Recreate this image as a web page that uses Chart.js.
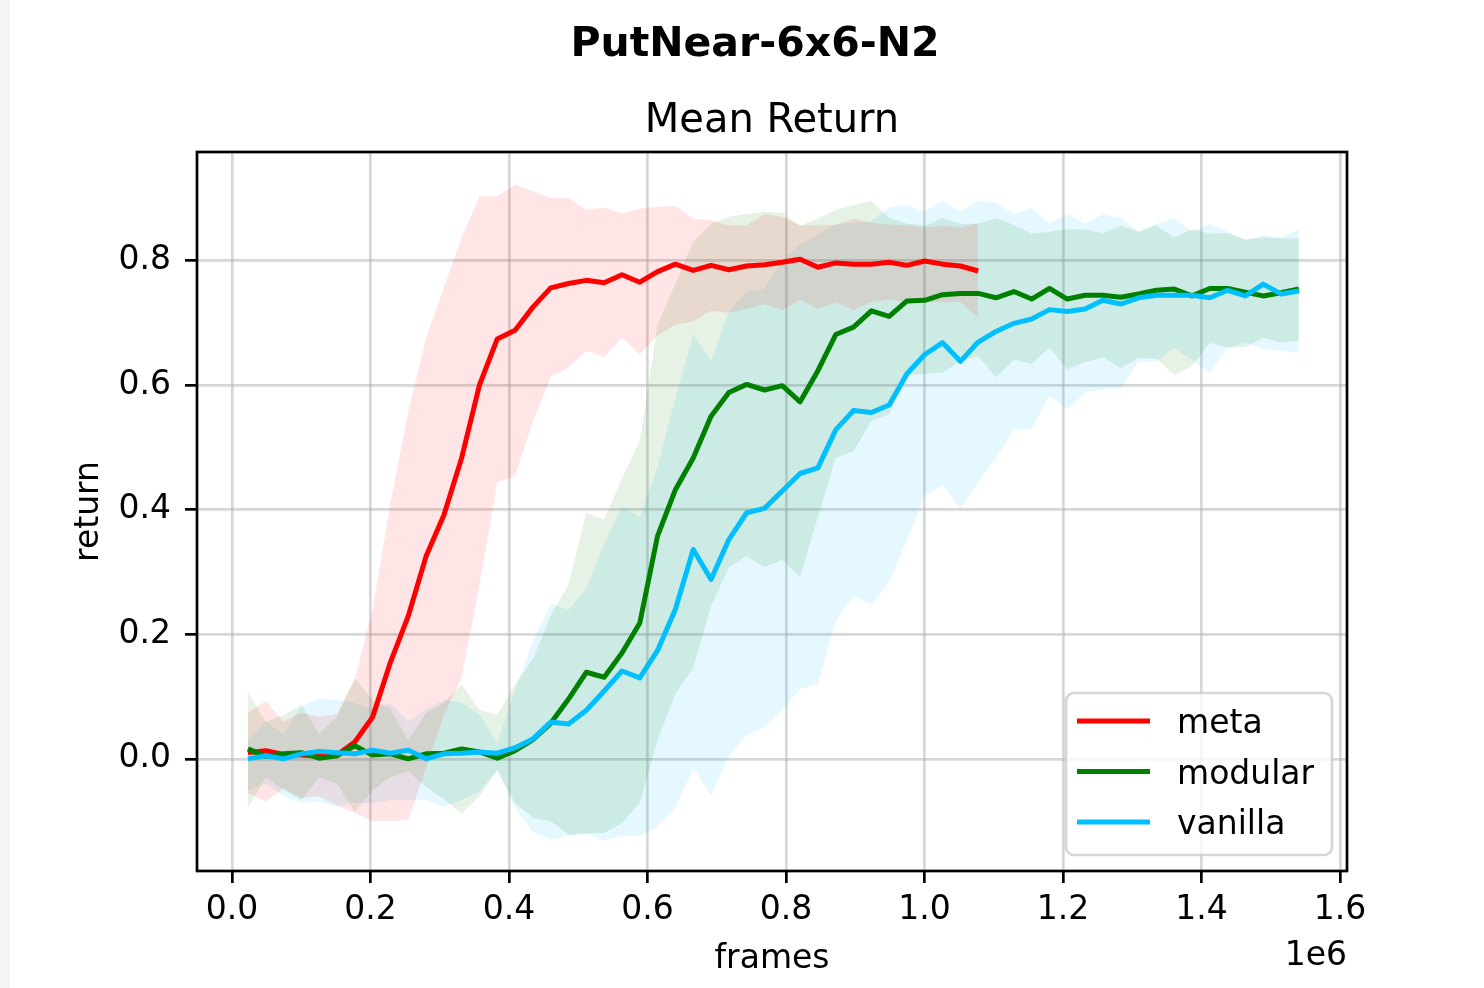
<!DOCTYPE html>
<html lang="en">
<head>
<meta charset="UTF-8">
<title>PutNear-6x6-N2 - Mean Return</title>
<script src="https://cdn.jsdelivr.net/npm/chart.js@4.4.1/dist/chart.umd.min.js"></script>
<style>
  html, body { margin: 0; padding: 0; background: #fff; }
  #wrap { width: 1484px; height: 988px; }
  canvas { display: block; }
</style>
</head>
<body>
<div id="wrap"><canvas id="returnChart" width="1484" height="988"></canvas></div>
<script>
// frame count at each logged update
const frames = [
  23000, 48720, 74440, 100160, 125880, 151600, 177320, 203040, 228760, 254480,
  280200, 305920, 331640, 357360, 383080, 408800, 434520, 460240, 485960, 511680,
  537400, 563120, 588840, 614560, 640280, 666000, 691720, 717440, 743160, 768880,
  794600, 820320, 846040, 871760, 897480, 923200, 948920, 974640, 1000360, 1026080,
  1051800, 1077520, 1103240, 1128960, 1154680, 1180400, 1206120, 1231840, 1257560, 1283280,
  1309000, 1334720, 1360440, 1386160, 1411880, 1437600, 1463320, 1489040, 1514760, 1540480
];

// meta agent (shorter run)
const metaMean = [
  0.010, 0.013, 0.007, 0.006, 0.004, 0.006, 0.027, 0.067, 0.155, 0.229,
  0.325, 0.391, 0.483, 0.600, 0.674, 0.688, 0.725, 0.756, 0.763, 0.768,
  0.764, 0.777, 0.765, 0.782, 0.794, 0.784, 0.792, 0.785, 0.791, 0.793,
  0.797, 0.802, 0.789, 0.796, 0.794, 0.794, 0.797, 0.792, 0.799, 0.794,
  0.791, 0.783
];
const metaUpper = [
  0.074, 0.093, 0.060, 0.074, 0.068, 0.072, 0.127, 0.240, 0.410, 0.557,
  0.675, 0.756, 0.837, 0.903, 0.903, 0.922, 0.911, 0.900, 0.900, 0.881,
  0.885, 0.875, 0.883, 0.886, 0.887, 0.867, 0.865, 0.856, 0.856, 0.874,
  0.870, 0.856, 0.856, 0.857, 0.867, 0.860, 0.858, 0.856, 0.853, 0.856,
  0.853, 0.860
];
const metaLower = [
  -0.055, -0.069, -0.047, -0.063, -0.060, -0.075, -0.087, -0.100, -0.100, -0.098,
  -0.015, 0.070, 0.130, 0.280, 0.443, 0.454, 0.542, 0.613, 0.628, 0.655,
  0.645, 0.676, 0.649, 0.680, 0.697, 0.702, 0.719, 0.716, 0.722, 0.730,
  0.720, 0.737, 0.722, 0.733, 0.720, 0.733, 0.737, 0.733, 0.733, 0.733,
  0.733, 0.708
];

// modular agent
const modularMean = [
  0.016, 0.004, 0.008, 0.010, 0.001, 0.005, 0.021, 0.006, 0.008, 0.000,
  0.008, 0.009, 0.016, 0.011, 0.001, 0.013, 0.031, 0.057, 0.096, 0.139,
  0.131, 0.170, 0.218, 0.358, 0.432, 0.483, 0.550, 0.588, 0.601, 0.592,
  0.599, 0.573, 0.623, 0.681, 0.693, 0.719, 0.710, 0.735, 0.736, 0.745,
  0.747, 0.747, 0.740, 0.750, 0.738, 0.755, 0.738, 0.744, 0.744, 0.741,
  0.746, 0.752, 0.754, 0.743, 0.755, 0.755, 0.749, 0.743, 0.748, 0.754
];
const modularUpper = [
  0.107, 0.060, 0.070, 0.087, 0.040, 0.068, 0.130, 0.095, 0.080, 0.030,
  0.073, 0.090, 0.119, 0.079, 0.070, 0.120, 0.160, 0.230, 0.280, 0.395,
  0.384, 0.450, 0.510, 0.697, 0.763, 0.830, 0.859, 0.870, 0.874, 0.878,
  0.876, 0.856, 0.867, 0.881, 0.889, 0.895, 0.868, 0.859, 0.856, 0.868,
  0.859, 0.859, 0.868, 0.857, 0.843, 0.846, 0.850, 0.850, 0.843, 0.856,
  0.846, 0.856, 0.837, 0.850, 0.843, 0.844, 0.833, 0.837, 0.835, 0.835
];
const modularLower = [
  -0.079, -0.030, -0.050, -0.066, -0.030, -0.040, -0.085, -0.050, -0.030, -0.020,
  -0.045, -0.065, -0.088, -0.060, -0.018, -0.071, -0.095, -0.100, -0.122, -0.120,
  -0.119, -0.103, -0.071, 0.030, 0.105, 0.146, 0.245, 0.307, 0.325, 0.308,
  0.319, 0.292, 0.388, 0.483, 0.494, 0.542, 0.553, 0.616, 0.618, 0.620,
  0.638, 0.646, 0.612, 0.640, 0.634, 0.660, 0.625, 0.637, 0.644, 0.627,
  0.643, 0.642, 0.616, 0.630, 0.668, 0.660, 0.661, 0.676, 0.668, 0.671
];

// vanilla agent
const vanillaMean = [
  0.000, 0.005, 0.000, 0.008, 0.012, 0.010, 0.008, 0.014, 0.009, 0.014,
  0.000, 0.008, 0.009, 0.011, 0.009, 0.018, 0.032, 0.059, 0.056, 0.078,
  0.109, 0.141, 0.130, 0.174, 0.240, 0.336, 0.288, 0.352, 0.395, 0.402,
  0.430, 0.458, 0.467, 0.528, 0.559, 0.556, 0.568, 0.618, 0.649, 0.668,
  0.638, 0.669, 0.686, 0.699, 0.706, 0.721, 0.718, 0.722, 0.736, 0.730,
  0.740, 0.744, 0.744, 0.744, 0.740, 0.752, 0.743, 0.762, 0.746, 0.751
];
const vanillaUpper = [
  0.030, 0.060, 0.040, 0.085, 0.097, 0.095, 0.090, 0.080, 0.090, 0.060,
  0.080, 0.095, 0.090, 0.071, 0.025, 0.110, 0.188, 0.248, 0.239, 0.274,
  0.345, 0.406, 0.388, 0.469, 0.579, 0.682, 0.638, 0.719, 0.750, 0.755,
  0.800, 0.826, 0.841, 0.858, 0.861, 0.863, 0.885, 0.889, 0.878, 0.896,
  0.878, 0.896, 0.892, 0.874, 0.884, 0.859, 0.874, 0.859, 0.874, 0.868,
  0.846, 0.859, 0.868, 0.846, 0.859, 0.846, 0.833, 0.840, 0.837, 0.850
];
const vanillaLower = [
  -0.050, -0.040, -0.060, -0.070, -0.069, -0.077, -0.070, -0.072, -0.066, -0.066,
  -0.066, -0.077, -0.066, -0.052, -0.018, -0.080, -0.117, -0.130, -0.124, -0.120,
  -0.131, -0.124, -0.124, -0.109, -0.079, -0.015, -0.058, 0.005, 0.038, 0.051,
  0.078, 0.112, 0.120, 0.221, 0.261, 0.248, 0.283, 0.351, 0.424, 0.439,
  0.402, 0.444, 0.483, 0.528, 0.530, 0.583, 0.561, 0.587, 0.594, 0.594,
  0.638, 0.638, 0.660, 0.640, 0.620, 0.660, 0.668, 0.658, 0.655, 0.651
];

const yTicks = [0.0, 0.2, 0.4, 0.6, 0.8];
const xTicks = [0, 200000, 400000, 600000, 800000, 1000000, 1200000, 1400000, 1600000];

const FONT = '"DejaVu Sans", "Liberation Sans", sans-serif';
const GRID = 'rgba(176,176,176,0.5)';

const runs = [
  { label: 'meta', color: '#ff0000', band: 'rgba(255,0,0,0.1)', mean: metaMean, lower: metaLower, upper: metaUpper, order: 2 },
  { label: 'modular', color: '#008000', band: 'rgba(0,128,0,0.1)', mean: modularMean, lower: modularLower, upper: modularUpper, order: 1 },
  { label: 'vanilla', color: '#00bfff', band: 'rgba(0,191,255,0.1)', mean: vanillaMean, lower: vanillaLower, upper: vanillaUpper, order: 0 }
];

function points(values) {
  return values.map((v, i) => ({ x: frames[i], y: v }));
}

const datasets = [];
runs.forEach(run => {
  datasets.push({
    label: run.label,
    data: points(run.mean),
    borderColor: run.color,
    borderWidth: 5,
    borderJoinStyle: 'round',
    pointRadius: 0,
    tension: 0,
    fill: false,
    order: run.order
  });
});
// shaded spread: upper edge, then lower edge filled up to it
runs.forEach(run => {
  const upperIndex = datasets.length;
  datasets.push({
    label: run.label + ' upper',
    data: points(run.upper),
    borderColor: 'rgba(0,0,0,0)',
    borderWidth: 0,
    pointRadius: 0,
    tension: 0,
    fill: false,
    order: 5
  });
  datasets.push({
    label: run.label + ' lower',
    data: points(run.lower),
    borderColor: 'rgba(0,0,0,0)',
    borderWidth: 0,
    backgroundColor: run.band,
    pointRadius: 0,
    tension: 0,
    fill: upperIndex,
    order: 5
  });
});

// frame, titles, axis labels and legend drawn in matplotlib style
const figureDecor = {
  id: 'figureDecor',
  beforeDraw(chart) {
    const { ctx, width, height } = chart;
    ctx.save();
    ctx.fillStyle = '#ffffff';
    ctx.fillRect(0, 0, width, height);
    ctx.fillStyle = '#f4f4f4';
    ctx.fillRect(0, 0, 10, height);
    ctx.restore();
  },
  afterDraw(chart) {
    const { ctx, chartArea: a } = chart;
    const midX = (a.left + a.right) / 2;
    ctx.save();

    ctx.strokeStyle = '#000';
    ctx.lineWidth = 2.7;
    ctx.strokeRect(a.left, a.top, a.right - a.left, a.bottom - a.top);

    ctx.fillStyle = '#000';
    ctx.textBaseline = 'alphabetic';
    ctx.textAlign = 'center';
    ctx.font = 'bold 41px ' + FONT;
    ctx.fillText('PutNear-6x6-N2', 755, 56);
    ctx.font = '40px ' + FONT;
    ctx.fillText('Mean Return', midX, 132);

    ctx.font = '33px ' + FONT;
    ctx.fillText('frames', midX, 968);
    ctx.textAlign = 'right';
    ctx.fillText('1e6', a.right, 965);

    ctx.save();
    ctx.translate(98, (a.top + a.bottom) / 2);
    ctx.rotate(-Math.PI / 2);
    ctx.textAlign = 'center';
    ctx.fillText('return', 0, 0);
    ctx.restore();

    // legend box, lower right
    const bx = 1066, by = 693, bw = 266, bh = 162, r = 8;
    ctx.beginPath();
    ctx.moveTo(bx + r, by);
    ctx.arcTo(bx + bw, by, bx + bw, by + bh, r);
    ctx.arcTo(bx + bw, by + bh, bx, by + bh, r);
    ctx.arcTo(bx, by + bh, bx, by, r);
    ctx.arcTo(bx, by, bx + bw, by, r);
    ctx.closePath();
    ctx.fillStyle = 'rgba(255,255,255,0.8)';
    ctx.fill();
    ctx.strokeStyle = 'rgba(204,204,204,0.8)';
    ctx.lineWidth = 2.7;
    ctx.stroke();

    ctx.font = '33px ' + FONT;
    ctx.textAlign = 'left';
    runs.forEach((run, k) => {
      const y = 721 + k * 50.5;
      ctx.strokeStyle = run.color;
      ctx.lineWidth = 5;
      ctx.beginPath();
      ctx.moveTo(1077, y);
      ctx.lineTo(1150, y);
      ctx.stroke();
      ctx.fillStyle = '#000';
      ctx.fillText(run.label, 1177, y + 12);
    });

    ctx.restore();
  }
};

Chart.defaults.font.family = FONT;

new Chart(document.getElementById('returnChart'), {
  type: 'line',
  data: { datasets },
  plugins: [figureDecor],
  options: {
    responsive: false,
    devicePixelRatio: 1,
    animation: false,
    events: [],
    layout: { padding: { left: 0, top: 152, right: 137, bottom: 0 } },
    plugins: {
      legend: { display: false },
      title: { display: false },
      tooltip: { enabled: false },
      filler: { propagate: false }
    },
    scales: {
      x: {
        type: 'linear',
        min: -50500,
        max: 1610000,
        afterBuildTicks: scale => { scale.ticks = xTicks.map(v => ({ value: v })); },
        afterFit: scale => { scale.height = 117; },
        ticks: {
          color: '#000',
          font: { size: 33 },
          padding: 8,
          maxRotation: 0,
          autoSkip: false,
          callback: v => (v / 1e6).toFixed(1)
        },
        grid: { color: GRID, lineWidth: 2.7, tickLength: 12, tickColor: '#000', tickWidth: 2.7 },
        border: { display: false }
      },
      y: {
        type: 'linear',
        min: -0.18,
        max: 0.974,
        afterBuildTicks: scale => { scale.ticks = yTicks.map(v => ({ value: v })); },
        afterFit: scale => { scale.width = 197; },
        ticks: {
          color: '#000',
          font: { size: 33 },
          padding: 14,
          callback: v => v.toFixed(1)
        },
        grid: { color: GRID, lineWidth: 2.7, tickLength: 12, tickColor: '#000', tickWidth: 2.7 },
        border: { display: false }
      }
    }
  }
});
</script>
</body>
</html>
